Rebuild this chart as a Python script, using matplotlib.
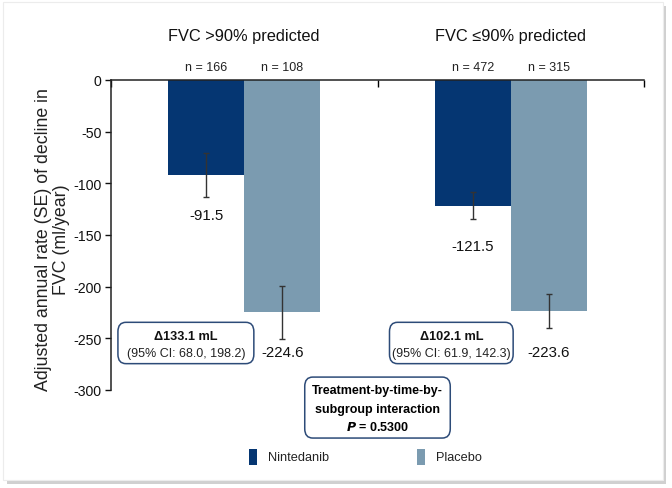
import matplotlib.pyplot as plt
from matplotlib.patches import FancyBboxPatch, Rectangle

plt.rcParams["font.family"] = ["Liberation Sans", "DejaVu Sans"]

# data
groups = ["FVC >90% predicted", "FVC \u226490% predicted"]
treatments = ["Nintedanib", "Placebo"]
rates = [[-91.5, -224.6], [-121.5, -223.6]]
se = [[21.3, 25.6], [13.4, 16.2]]
n_pat = [[166, 108], [472, 315]]
diffs = ["133.1", "102.1"]
ci = ["68.0, 198.2", "61.9, 142.3"]
p_value = "0.5300"
yticks = [0, -50, -100, -150, -200, -250, -300]

colors = ["#053672", "#7b9bb0"]
box_edge = "#2d4b78"
width = 0.285

fig = plt.figure(figsize=(6.72, 4.89), dpi=100)

# card with a soft shadow round it
fig.patches.append(Rectangle((7 / 672, 1 - 485 / 489), 659 / 672, 478 / 489,
                             transform=fig.transFigure, facecolor="#d0d0d0",
                             edgecolor="none", zorder=-3))
fig.patches.append(Rectangle((3 / 672, 1 - 481 / 489), 660 / 672, 478 / 489,
                             transform=fig.transFigure, facecolor="white",
                             edgecolor="#ececec", lw=0.8, zorder=-2))

ax = fig.add_axes([111 / 672, 1 - 391 / 489, 533 / 672, 310 / 489])
ax.set_zorder(1)
ax.patch.set_alpha(0)

for g in range(len(groups)):
    for t in range(len(treatments)):
        x = g + (t - 0.5) * width
        ax.bar(x, rates[g][t], width, color=colors[t], zorder=2)
        ax.errorbar(x, rates[g][t], yerr=se[g][t], color="#333333", lw=1,
                    capsize=2.5, capthick=1, zorder=3)
        ax.text(x, 12.5, "n = %d" % n_pat[g][t], ha="center", va="center",
                fontsize=9, color="#222222")
    ax.text(g, 43.5, groups[g], ha="center", va="center", fontsize=11.8,
            color="#111111")

# value labels under the bars
label_y = [[-131, -263], [-161, -263]]
for g in range(len(groups)):
    for t in range(len(treatments)):
        x = g + (t - 0.5) * width
        ax.text(x, label_y[g][t], "%.1f" % rates[g][t], ha="center",
                va="center", fontsize=10.8, color="#111111")

# difference boxes
box_x = [(-0.474, 0.036), (0.545, 1.009)]
for g in range(len(groups)):
    x0, x1 = box_x[g]
    ax.add_patch(FancyBboxPatch((x0, -274.5), x1 - x0, 40,
                                boxstyle="round,pad=0,rounding_size=0.03",
                                mutation_aspect=300,
                                facecolor="white", edgecolor=box_edge,
                                lw=1.1, zorder=4, clip_on=False))
    xc = (x0 + x1) / 2
    ax.text(xc, -247.5, "\u0394" + diffs[g] + " mL", ha="center",
            va="center", fontsize=9.2, fontweight="bold", color="#111111",
            zorder=5)
    ax.text(xc, -264, "(95% CI: " + ci[g] + ")", ha="center", va="center",
            fontsize=9, color="#222222", zorder=5)

# interaction box below the axis
ax.add_patch(FancyBboxPatch((0.227, -346.5), 0.546, 59,
                            boxstyle="round,pad=0,rounding_size=0.03",
                            mutation_aspect=300,
                            facecolor="white", edgecolor=box_edge, lw=1.1,
                            zorder=4, clip_on=False))
ax.text(0.5, -300, "Treatment-by-time-by-", ha="center", va="center",
        fontsize=9, fontweight="bold", zorder=5)
ax.text(0.5, -318, "subgroup interaction", ha="center", va="center",
        fontsize=9, fontweight="bold", zorder=5)
ax.text(0.5, -335.5, "$\\boldsymbol{P}$ = " + p_value, ha="center",
        va="center", fontsize=9, fontweight="bold", zorder=5)

ax.set_xlim(-0.5, 1.5)
ax.set_ylim(-300, 0)
ax.set_yticks(yticks)
ax.set_yticklabels([str(v) for v in yticks])
ax.tick_params(axis="y", direction="out", length=4, width=1, labelsize=10.2,
               pad=3, colors="#111111")
ax.xaxis.tick_top()
ax.set_xticks([-0.5, 0.5, 1.5])
ax.set_xticklabels([])
ax.tick_params(axis="x", direction="in", length=5, width=1)
for side in ["bottom", "right"]:
    ax.spines[side].set_visible(False)
for side in ["top", "left"]:
    ax.spines[side].set_linewidth(1.1)
    ax.spines[side].set_color("#222222")
ax.spines["top"].set_zorder(3)

ax.set_ylabel("Adjusted annual rate (SE) of decline in\nFVC (ml/year)",
              fontsize=12.8, color="#222222", linespacing=1.08)
ax.yaxis.set_label_coords(-0.077, 0.487)

# legend drawn by hand
leg_x = [249 / 672, 417 / 672]
for t in range(len(treatments)):
    fig.patches.append(Rectangle((leg_x[t], 1 - 466 / 489), 8 / 672, 16 / 489,
                                 transform=fig.transFigure,
                                 facecolor=colors[t], edgecolor="none"))
    fig.text(leg_x[t] + 19 / 672, 1 - 458 / 489, treatments[t], ha="left",
             va="center", fontsize=9.2, color="#222222")

fig.savefig("out.png", dpi=100)
